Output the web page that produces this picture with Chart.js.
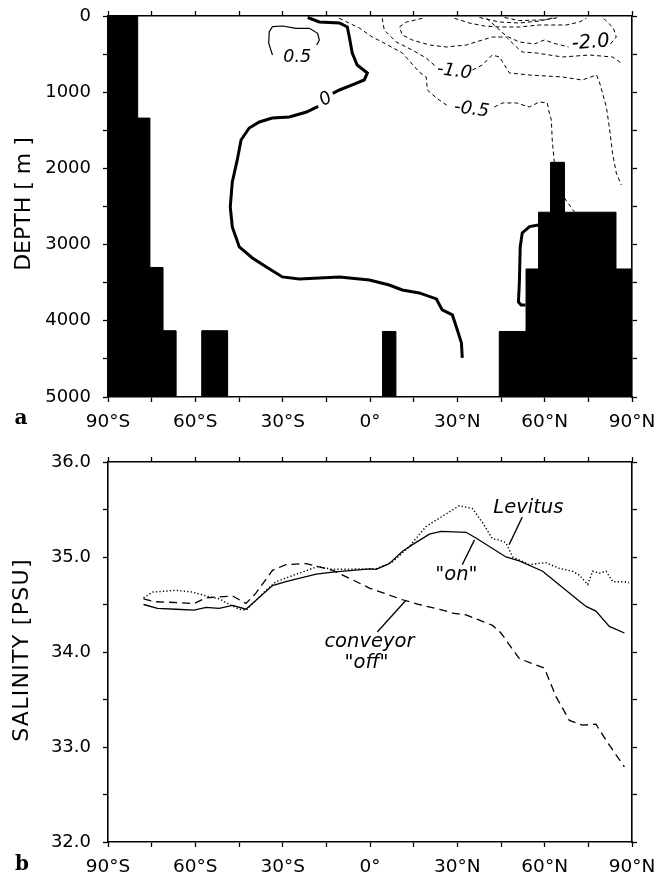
<!DOCTYPE html>
<html>
<head>
<meta charset="utf-8">
<script src="https://cdn.jsdelivr.net/npm/chart.js@4.4.0/dist/chart.umd.min.js"></script>
<style>
  html, body { margin: 0; padding: 0; background: #fff; }
  #wrap { position: relative; width: 657px; height: 877px; overflow: hidden; }
  canvas { position: absolute; left: 0; }
  #depthChart { top: 0; }
  #salChart { top: 430px; }
</style>
</head>
<body>
<div id="wrap">
  <canvas id="depthChart" width="657" height="430"></canvas>
  <canvas id="salChart" width="657" height="447"></canvas>
</div>
<script>
// ---------- ticks ----------
const latTicks = [-90, -60, -30, 0, 30, 60, 90];
const latTickLabels = ['90°S', '60°S', '30°S', '0°', '30°N', '60°N', '90°N'];
const depthTicks = [0, 1000, 2000, 3000, 4000, 5000];
const salTicks = [32, 33, 34, 35, 36];
const salTickLabels = ['32.0', '33.0', '34.0', '35.0', '36.0'];

// ---------- panel a: bottom topography (left edge of each cell, depth of sea floor) ----------
const bathyLat   = [-90, -79.8, -75.6, -71.1, -66.6, -57.8, -48.9, 4.3, 8.9, 44.4, 53.6, 57.9, 62.0, 66.8, 84.5, 90];
const bathyDepth = [0, 1340, 3300, 4130, 5000, 4130, 5000, 4140, 5000, 4140, 3320, 2575, 1920, 2575, 3320, 3320];

// ---------- panel a: contours [lat, depth] ----------
const zeroTop = [[-21.4, 20], [-17.4, 79], [-10.5, 92], [-7.8, 144], [-7.1, 276], [-6.1, 485], [-4.4, 643],
  [-0.9, 748], [-2.0, 840], [-6.1, 905], [-10.5, 971], [-12.8, 1015]];
const zeroMain = [[-17.8, 1185], [-21.8, 1260], [-27.7, 1325], [-33.6, 1338], [-38.0, 1391], [-41.5, 1470],
  [-44.3, 1627], [-45.6, 1889], [-47.3, 2178], [-48.0, 2506], [-47.3, 2768], [-44.9, 3031], [-40.4, 3175],
  [-35.6, 3293], [-30.1, 3424], [-24.3, 3451], [-17.4, 3437], [-10.5, 3424], [-0.2, 3464], [6.6, 3530],
  [11.1, 3595], [16.9, 3634], [22.8, 3713], [24.8, 3857], [28.3, 3923], [30.0, 4120], [31.4, 4290], [31.7, 4487]];
const zeroNorth = [[57.9, 2742], [54.8, 2764], [52.3, 2847], [51.6, 3031], [51.3, 3503], [51.0, 3752],
  [51.9, 3792], [53.4, 3792]];
const halfPos = [[-33.5, 512], [-34.8, 358], [-34.6, 206], [-33.5, 140], [-30.0, 131], [-25.4, 162],
  [-20.8, 162], [-18.0, 227], [-17.4, 315], [-18.3, 380]];
const halfNegA = [[-10.6, 30], [-3.7, 157], [0.8, 276], [4.2, 341], [11.1, 485], [16.9, 735], [19.3, 800],
  [19.7, 971], [22.8, 1076], [27.2, 1194]];
const halfNegB = [[42.7, 1194], [45.5, 1141], [50.3, 1141], [54.7, 1194], [58.2, 1128], [60.9, 1141],
  [61.6, 1273], [62.3, 1364], [62.6, 1627], [63.3, 1915]];
const halfNegC = [[66.8, 2388], [70.2, 2572]];
const oneNegA = [[4.2, 30], [4.9, 184], [9.0, 341], [14.5, 446], [19.3, 551], [22.8, 669]];
const oneNegB = [[35.2, 708], [38.6, 643], [42.0, 512], [44.5, 538], [47.9, 748], [54.7, 774], [66.1, 800],
  [72.9, 840], [77.8, 774], [78.8, 866], [81.2, 1194], [82.2, 1456], [83.3, 1797], [84.6, 2060], [86.3, 2217]];
const oneHalfNeg = [[18.0, 30], [12.5, 79], [10.1, 144], [11.1, 249], [14.5, 315], [20.4, 380], [26.2, 407],
  [33.1, 380], [38.6, 315], [42.0, 276], [46.8, 276], [50.3, 407], [52.3, 472], [57.1, 485], [66.1, 538],
  [75.4, 512], [83.3, 538], [86.3, 617]];
const twoNegA = [[40.0, 30], [43.4, 144], [46.8, 262], [51.3, 341], [56.5, 367], [59.9, 315], [64.0, 367], [68.2, 407]];
const twoNegB = [[82.6, 367], [84.6, 276], [83.6, 157], [80.8, 52], [79.8, 13]];
const twoHalfNeg = [[29.0, 30], [34.1, 92], [39.3, 131], [44.4, 144], [51.3, 144], [58.2, 118], [67.4, 118],
  [71.9, 79], [74.3, 30]];
const threeNeg = [[37.6, 20], [44.4, 79], [51.3, 92], [58.2, 66], [63.3, 20]];
const threeHalfNeg = [[46.2, 20], [51.3, 60], [59.9, 50], [65.0, 20]];

// ---------- panel b: zonal mean salinity ----------
const onLat = [-77.8, -73, -66.6, -60.4, -56.3, -51.8, -47.2, -42.6, -33.5, -28.9, -18.5, -12.8, -6, 0, 2.1,
  6.6, 11.2, 14.6, 20.4, 24.4, 33, 36.4, 46.7, 51.3, 59.3, 67.3, 74.2, 77.6, 82.2, 87.4];
const onSal = [34.50, 34.46, 34.45, 34.44, 34.47, 34.46, 34.49, 34.45, 34.70, 34.74, 34.82, 34.84, 34.86,
  34.875, 34.87, 34.93, 35.06, 35.13, 35.24, 35.27, 35.26, 35.20, 35.00, 34.96, 34.85, 34.65, 34.48, 34.43,
  34.27, 34.20];
const levLat = [-77.8, -74.7, -66.6, -60.9, -55.2, -51.8, -48.3, -44.9, -42.6, -35.7, -32.3, -24.3, -18,
  -12.8, 0, 2.1, 7.8, 13.5, 19.2, 24.9, 30.7, 35.2, 38.7, 42.1, 44.4, 46.7, 49, 54.7, 60.5, 65, 69.6, 71.9,
  74.8, 76.5, 78.8, 81.1, 83.4, 87.4, 89];
const levSal = [34.57, 34.63, 34.65, 34.63, 34.58, 34.56, 34.50, 34.45, 34.44, 34.65, 34.74, 34.83, 34.90,
  34.87, 34.875, 34.875, 34.95, 35.11, 35.32, 35.43, 35.54, 35.51, 35.36, 35.19, 35.18, 35.15, 35.00, 34.92,
  34.94, 34.88, 34.85, 34.81, 34.71, 34.85, 34.83, 34.85, 34.74, 34.74, 34.73];
const offLat = [-77.8, -74.1, -66.1, -60.4, -56.3, -51.8, -47.2, -42.6, -39.2, -33.5, -28.9, -22, -12.8, -6,
  0, 11.2, 16.9, 24.9, 28.4, 33, 42.1, 45, 51.3, 59.9, 63.9, 68.5, 73, 77.6, 81.1, 87.4];
const offSal = [34.56, 34.53, 34.52, 34.51, 34.57, 34.58, 34.59, 34.51, 34.62, 34.86, 34.92, 34.93, 34.86,
  34.76, 34.67, 34.55, 34.50, 34.44, 34.41, 34.39, 34.28, 34.20, 33.93, 33.83, 33.53, 33.28, 33.23, 33.24,
  33.07, 32.79];

Chart.defaults.font.family = '"DejaVu Sans", sans-serif';
Chart.defaults.color = '#000';

const pairs = (xs, ys) => xs.map((x, i) => ({ x: x, y: ys[i] }));
const pts = arr => arr.map(p => ({ x: p[0], y: p[1] }));

function latLabel(v) {
  const i = latTicks.indexOf(v);
  return i < 0 ? '' : latTickLabels[i];
}

// frame axis with outward tick marks only
function frameAxis(position, size, extra) {
  const vertical = position === 'left' || position === 'right';
  const ax = {
    type: 'linear',
    position: position,
    grid: { drawOnChartArea: false, drawTicks: true, tickLength: 5, tickWidth: 1.3, tickColor: '#000' },
    border: { display: true, color: '#000', width: 1.6 },
    afterFit(s) {
      if (vertical) s.width = size; else s.height = size;
      s.paddingLeft = s.paddingRight = s.paddingTop = s.paddingBottom = 0;
    }
  };
  return Object.assign(ax, extra);
}

function latAxis(position, size, labelled) {
  return frameAxis(position, size, {
    min: -90, max: 90,
    ticks: {
      stepSize: 15, autoSkip: false, maxRotation: 0, minRotation: 0, padding: 9,
      font: { size: 18.5 }, color: '#000',
      callback: v => labelled ? latLabel(v) : ''
    }
  });
}

// text drawn in data coordinates + fixed page text
const notesPlugin = {
  id: 'notes',
  afterDatasetsDraw(chart, args, opts) {
    const { ctx } = chart;
    const xs = chart.scales.x, ys = chart.scales.y;
    ctx.save();
    ctx.fillStyle = '#000';
    ctx.textAlign = 'center';
    ctx.textBaseline = 'middle';
    (opts.items || []).forEach(t => {
      ctx.save();
      ctx.translate(xs.getPixelForValue(t.x), ys.getPixelForValue(t.y));
      ctx.rotate((t.rot || 0) * Math.PI / 180);
      ctx.font = t.font;
      ctx.fillText(t.text, 0, 0);
      ctx.restore();
    });
    (opts.fixed || []).forEach(t => {
      ctx.save();
      ctx.translate(t.px, t.py);
      ctx.rotate((t.rot || 0) * Math.PI / 180);
      ctx.font = t.font;
      if (t.spacing) ctx.letterSpacing = t.spacing;
      ctx.fillText(t.text, 0, 0);
      ctx.restore();
    });
    ctx.restore();
  }
};

const LABEL_FONT = 'italic 18px "DejaVu Sans"';

// ================== panel a ==================
function contour(arr, solid, width) {
  return {
    data: pts(arr),
    borderColor: '#000',
    borderWidth: width || 1,
    borderDash: solid ? [] : [4, 3],
    pointRadius: 0,
    fill: false,
    tension: 0,
    order: 1
  };
}

new Chart(document.getElementById('depthChart'), {
  type: 'line',
  data: {
    datasets: [
      {
        data: pairs(bathyLat, bathyDepth),
        stepped: 'before',
        borderColor: '#000',
        borderWidth: 1,
        backgroundColor: '#000',
        fill: { value: 5000 },
        pointRadius: 0,
        order: 10
      },
      contour(zeroTop, true, 3),
      contour(zeroMain, true, 3),
      contour(zeroNorth, true, 3),
      contour(halfPos, true, 1.2),
      contour(halfNegA), contour(halfNegB), contour(halfNegC),
      contour(oneNegA), contour(oneNegB),
      contour(oneHalfNeg),
      contour(twoNegA), contour(twoNegB),
      contour(twoHalfNeg), contour(threeNeg), contour(threeHalfNeg)
    ]
  },
  options: {
    responsive: false,
    animation: false,
    events: [],
    layout: { padding: 0 },
    plugins: {
      legend: { display: false },
      tooltip: { enabled: false },
      notes: {
        items: [
          { text: '0.5', x: -25, y: 545, font: 'italic 17.5px "DejaVu Sans"' },
          { text: '0', x: -15.2, y: 1095, rot: -30, font: 'italic 18px "DejaVu Sans"' },
          { text: '-1.0', x: 29.0, y: 730, rot: 8, font: LABEL_FONT },
          { text: '-0.5', x: 34.9, y: 1228, rot: 8, font: LABEL_FONT },
          { text: '-2.0', x: 75.8, y: 350, rot: -5, font: 'italic 19.5px "DejaVu Sans"' }
        ],
        fixed: [
          { text: 'DEPTH [ m ]', px: 24, py: 204, rot: -90, font: '22px "DejaVu Sans"' },
          { text: 'a', px: 21, py: 419, font: 'bold 20px "DejaVu Serif"' }
        ]
      }
    },
    scales: {
      x: latAxis('bottom', 33, true),
      x2: latAxis('top', 16, false),
      y: frameAxis('left', 108, {
        reverse: true, min: 0, max: 5000,
        ticks: {
          stepSize: 500, autoSkip: false, padding: 12, font: { size: 18 }, color: '#000',
          callback: v => depthTicks.includes(v) ? String(v) : ''
        }
      }),
      y2: frameAxis('right', 25, {
        reverse: true, min: 0, max: 5000,
        ticks: { stepSize: 500, autoSkip: false, callback: () => '' }
      })
    }
  },
  plugins: [notesPlugin]
});

// ================== panel b ==================
function salLine(xs, ys, dash, width) {
  return {
    data: pairs(xs, ys),
    borderColor: '#000',
    borderWidth: width,
    borderDash: dash,
    borderCapStyle: 'butt',
    pointRadius: 0,
    fill: false,
    tension: 0
  };
}
function pointer(a, b) {
  return { data: pts([a, b]), borderColor: '#000', borderWidth: 1.3, pointRadius: 0, fill: false };
}

const NOTE_FONT = 'italic 19.5px "DejaVu Sans"';

new Chart(document.getElementById('salChart'), {
  type: 'line',
  data: {
    datasets: [
      salLine(onLat, onSal, [], 1.3),
      salLine(levLat, levSal, [1.3, 2.2], 1.4),
      salLine(offLat, offSal, [8, 5], 1.3),
      pointer([52.3, 35.42], [47.8, 35.13]),
      pointer([35.9, 35.18], [31.7, 34.92]),
      pointer([2.5, 34.21], [12.2, 34.54])
    ]
  },
  options: {
    responsive: false,
    animation: false,
    events: [],
    layout: { padding: 0 },
    plugins: {
      legend: { display: false },
      tooltip: { enabled: false },
      notes: {
        items: [
          { text: 'Levitus', x: 54.4, y: 35.52, font: NOTE_FONT },
          { text: '"on"', x: 29.7, y: 34.81, font: NOTE_FONT },
          { text: 'conveyor', x: -0.2, y: 34.11, font: NOTE_FONT },
          { text: '"off"', x: -1.2, y: 33.89, font: NOTE_FONT }
        ],
        fixed: [
          { text: 'SALINITY [PSU]', px: 22, py: 220, rot: -90, font: '22px "DejaVu Sans"', spacing: '1.3px' },
          { text: 'b', px: 22, py: 435, font: 'bold 20px "DejaVu Serif"' }
        ]
      }
    },
    scales: {
      x: latAxis('bottom', 35, true),
      x2: latAxis('top', 32, false),
      y: frameAxis('left', 108, {
        min: 32, max: 36,
        ticks: {
          stepSize: 0.5, autoSkip: false, padding: 12, font: { size: 18 }, color: '#000',
          callback: v => {
            const i = salTicks.indexOf(v);
            return i < 0 ? '' : salTickLabels[i];
          }
        }
      }),
      y2: frameAxis('right', 25, {
        min: 32, max: 36,
        ticks: { stepSize: 0.5, autoSkip: false, callback: () => '' }
      })
    }
  },
  plugins: [notesPlugin]
});
</script>
</body>
</html>
